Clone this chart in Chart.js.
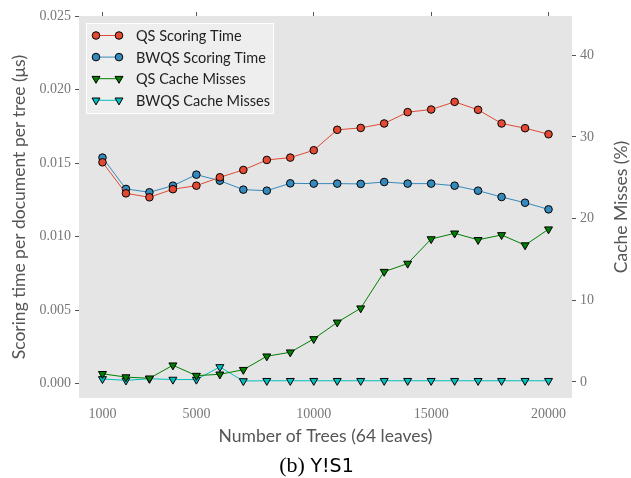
<!DOCTYPE html>
<html>
<head>
<meta charset="utf-8">
<script src="https://cdn.jsdelivr.net/npm/chart.js@4/dist/chart.umd.min.js"></script>
<style>
  html, body { margin: 0; padding: 0; background: #fff; }
  #chart { display: block; }
</style>
</head>
<body>
<canvas id="chart" width="631" height="478"></canvas>
<script>
const treeCounts = [1000, 2000, 3000, 4000, 5000, 6000, 7000, 8000, 9000, 10000,
  11000, 12000, 13000, 14000, 15000, 16000, 17000, 18000, 19000, 20000]

const qsScoring = [0.01505, 0.01294, 0.01267, 0.01322, 0.01346, 0.01403, 0.01453, 0.01521, 0.01537, 0.01587,
  0.01726, 0.01739, 0.01769, 0.01846, 0.01864, 0.01916, 0.01862, 0.01769, 0.01737, 0.01696]
const bwqsScoring = [0.01537, 0.01324, 0.01301, 0.01346, 0.01421, 0.01380, 0.01319, 0.01312, 0.01362, 0.01360,
  0.01360, 0.01358, 0.01371, 0.01360, 0.01360, 0.01346, 0.01312, 0.01269, 0.01230, 0.01185]
const qsMisses = [1.0, 0.6, 0.45, 2.05, 0.78, 0.94, 1.5, 3.15, 3.64, 5.27,
  7.3, 9.03, 13.5, 14.5, 17.5, 18.2, 17.4, 18.0, 16.75, 18.7]
const bwqsMisses = [0.37, 0.2, 0.4, 0.3, 0.3, 1.84, 0.12, 0.15, 0.15, 0.15,
  0.15, 0.15, 0.15, 0.15, 0.15, 0.15, 0.15, 0.15, 0.15, 0.15]

const xTicks = [1000, 5000, 10000, 15000, 20000]
const timeTicks = [0, 0.005, 0.010, 0.015, 0.020, 0.025]
const missTicks = [0, 10, 20, 30, 40]

const seriesNames = ["QS Scoring Time", "BWQS Scoring Time", "QS Cache Misses", "BWQS Cache Misses"]
const missTitle = "Cache Misses (%)"

const tickFont = { family: "Liberation Serif", size: 14 }
const tickColor = "#777"
const titleFont = { family: "Lato", size: 17.5 }
const titleColor = "#555"

const toPoints = (vals) => treeCounts.map((x, i) => ({ x: x, y: vals[i] }))
const fixTicks = (list) => (scale) => { scale.ticks = list.map(v => ({ value: v })) }

// gray panel behind the data
const panelBg = {
  id: "panelBg",
  beforeDraw(chart) {
    const { ctx, chartArea: a } = chart
    ctx.save()
    ctx.fillStyle = "#e5e5e5"
    ctx.fillRect(a.left, a.top, a.right - a.left, a.bottom - a.top)
    ctx.restore()
  }
}

// right axis title reads bottom-to-top, plus the "(b) Y!S1" caption
const extraText = {
  id: "extraText",
  afterDraw(chart) {
    const { ctx, chartArea: a } = chart
    ctx.save()
    ctx.fillStyle = titleColor
    ctx.font = titleFont.size + "px " + titleFont.family
    ctx.textAlign = "center"
    ctx.textBaseline = "middle"
    ctx.translate(chart.width - 10, (a.top + a.bottom) / 2)
    ctx.rotate(-Math.PI / 2)
    ctx.fillText(missTitle, 0, 0)
    ctx.restore()

    ctx.save()
    ctx.fillStyle = "#000"
    ctx.textBaseline = "alphabetic"
    ctx.textAlign = "left"
    const serif = "22px 'Liberation Serif'"
    const sans = "19px 'DejaVu Sans'"
    ctx.font = serif
    const w1 = ctx.measureText("(b) ").width
    ctx.font = sans
    const w2 = ctx.measureText("Y!S1").width
    const x0 = (a.left + a.right) / 2 - (w1 + w2) / 2 - 9
    const y0 = 472
    ctx.font = serif
    ctx.fillText("(b) ", x0, y0)
    ctx.font = sans
    ctx.fillText("Y!S1", x0 + w1, y0)
    ctx.restore()
  }
}

function drawMarker(ctx, style, x, y, r, fill) {
  ctx.beginPath()
  if (style === "circle") {
    ctx.arc(x, y, r, 0, Math.PI * 2)
  } else {
    ctx.moveTo(x, y + r)
    ctx.lineTo(x - r * 0.866, y - r / 2)
    ctx.lineTo(x + r * 0.866, y - r / 2)
    ctx.closePath()
  }
  ctx.fillStyle = fill
  ctx.fill()
  ctx.lineWidth = 1
  ctx.strokeStyle = "#000"
  ctx.stroke()
}

// matplotlib-like legend box in the upper left of the panel
const boxLegend = {
  id: "boxLegend",
  afterDatasetsDraw(chart) {
    const { ctx, chartArea: a } = chart
    const left = a.left + 7, top = a.top + 7
    const w = 188, h = 91
    ctx.save()
    ctx.fillStyle = "rgba(238,238,238,0.9)"
    ctx.fillRect(left, top, w, h)
    ctx.strokeStyle = "#fff"
    ctx.lineWidth = 1
    ctx.strokeRect(left + 0.5, top + 0.5, w - 1, h - 1)
    chart.data.datasets.forEach((ds, i) => {
      const y = top + 12.5 + i * 21.6
      const x1 = left + 10, x2 = left + 33
      ctx.strokeStyle = ds.borderColor
      ctx.lineWidth = 1
      ctx.beginPath()
      ctx.moveTo(x1, y)
      ctx.lineTo(x2, y)
      ctx.stroke()
      const style = ds.pointStyle === "circle" ? "circle" : "tri"
      drawMarker(ctx, style, x1, y, ds.pointRadius, ds.pointBackgroundColor)
      drawMarker(ctx, style, x2, y, ds.pointRadius, ds.pointBackgroundColor)
      ctx.fillStyle = "#222"
      ctx.font = "14.5px Lato"
      ctx.textBaseline = "middle"
      ctx.fillText(ds.label, left + 50, y + 1)
    })
    ctx.restore()
  }
}

function lineSet(label, vals, color, axis, style) {
  const tri = style === "triangle"
  return {
    label: label,
    data: toPoints(vals),
    yAxisID: axis,
    borderColor: color,
    borderWidth: 1,
    pointStyle: style,
    pointRotation: tri ? 180 : 0,
    pointRadius: tri ? 4.6 : 3.8,
    pointBackgroundColor: color,
    pointBorderColor: "#000",
    pointBorderWidth: 1,
    tension: 0
  }
}

new Chart(document.getElementById("chart"), {
  type: "line",
  data: {
    datasets: [
      lineSet(seriesNames[0], qsScoring, "#E24A33", "y", "circle"),
      lineSet(seriesNames[1], bwqsScoring, "#348ABD", "y", "circle"),
      lineSet(seriesNames[2], qsMisses, "#008000", "y1", "triangle"),
      lineSet(seriesNames[3], bwqsMisses, "#00BFBF", "y1", "triangle")
    ]
  },
  options: {
    responsive: false,
    animation: false,
    layout: { padding: { left: 0, right: 0, top: 0, bottom: 28 } },
    plugins: {
      legend: { display: false },
      tooltip: { enabled: false }
    },
    scales: {
      x: {
        type: "linear",
        position: "bottom",
        min: 0,
        max: 21000,
        afterBuildTicks: fixTicks(xTicks),
        afterFit: (s) => { s.height = 52 },
        ticks: { callback: (v) => String(v), font: tickFont, color: tickColor, padding: 8, maxRotation: 0 },
        grid: { drawOnChartArea: false, drawTicks: false },
        border: { display: false },
        title: { display: true, text: "Number of Trees (64 leaves)", font: titleFont, color: titleColor, padding: { top: 0, bottom: 3 } }
      },
      xTop: {
        type: "linear",
        position: "top",
        min: 0,
        max: 21000,
        afterBuildTicks: fixTicks(xTicks),
        afterFit: (s) => { s.height = 16 },
        ticks: { display: false },
        grid: { drawOnChartArea: false, tickLength: 4, color: "#555" },
        border: { display: false }
      },
      y: {
        position: "left",
        min: -0.00098,
        max: 0.025,
        afterBuildTicks: fixTicks(timeTicks),
        afterFit: (s) => { s.width = 79 },
        ticks: { callback: (v) => v.toFixed(3), font: tickFont, color: tickColor, padding: 4 },
        grid: { drawOnChartArea: false, tickLength: 4, color: "#555" },
        border: { display: false },
        title: { display: true, text: "Scoring time per document per tree (μs)", font: titleFont, color: titleColor, padding: { top: 9, bottom: 0 } }
      },
      y1: {
        position: "right",
        min: -1.96,
        max: 44.8,
        afterBuildTicks: fixTicks(missTicks),
        afterFit: (s) => { s.width = 59 },
        ticks: { font: tickFont, color: tickColor, padding: 4 },
        grid: { drawOnChartArea: false, tickLength: 4, color: "#555" },
        border: { display: false }
      }
    }
  },
  plugins: [panelBg, boxLegend, extraText]
})
</script>
</body>
</html>
